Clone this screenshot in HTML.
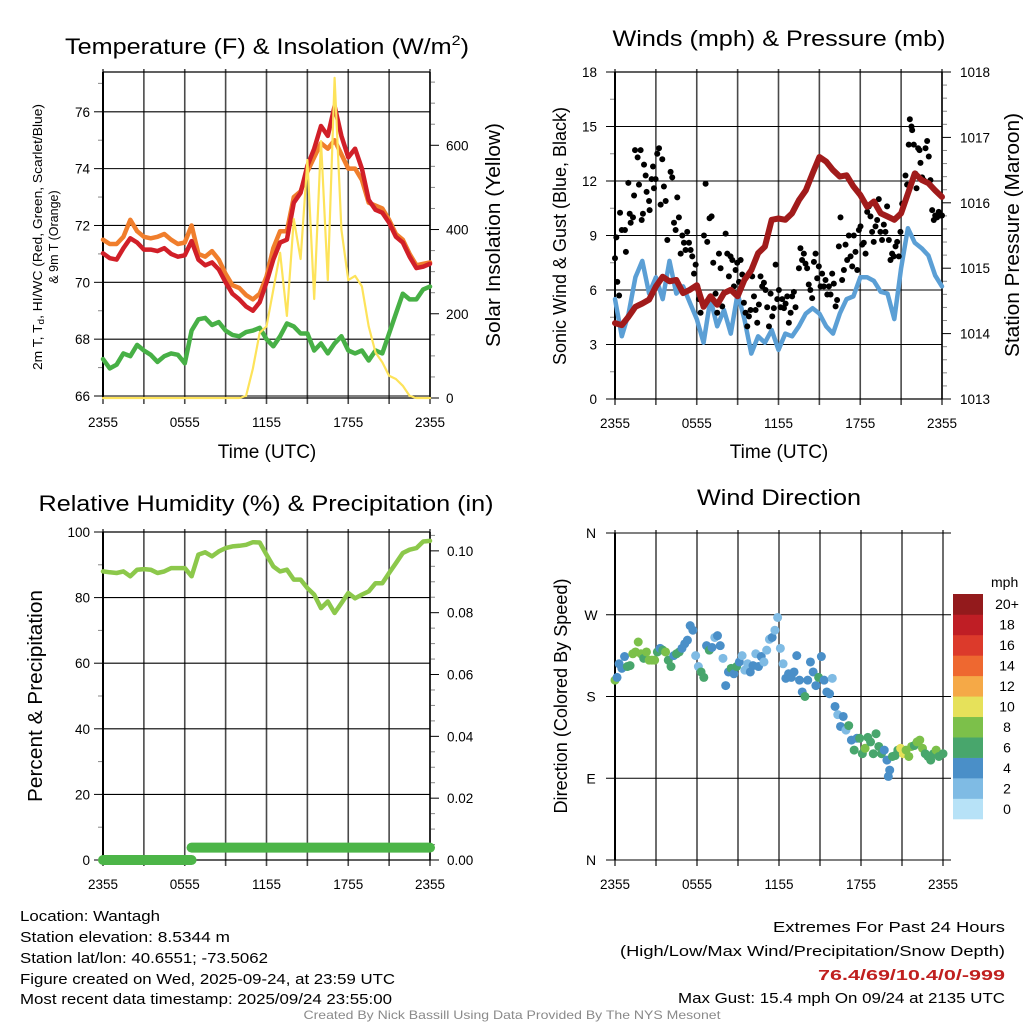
<!DOCTYPE html>
<html><head><meta charset="utf-8"><title>Wantagh Mesonet Meteogram</title>
<style>
html,body{margin:0;padding:0;background:#fff;}
svg{display:block;font-family:"Liberation Sans",Arial,sans-serif;}
</style></head>
<body>
<svg id="chart" width="1024" height="1024" viewBox="0 0 1024 1024" xmlns="http://www.w3.org/2000/svg">
<rect x="0" y="0" width="1024" height="1024" fill="#fff"/>
<!-- Titles -->
<text x="267" y="54" font-size="22" text-anchor="middle" textLength="404" lengthAdjust="spacingAndGlyphs">Temperature (F) &amp; Insolation (W/m<tspan font-size="14" dy="-9">2</tspan><tspan dy="9">)</tspan></text>
<text x="779" y="46" font-size="22" text-anchor="middle" textLength="333" lengthAdjust="spacingAndGlyphs">Winds (mph) &amp; Pressure (mb)</text>
<text x="266" y="511" font-size="22" text-anchor="middle" textLength="455" lengthAdjust="spacingAndGlyphs">Relative Humidity (%) &amp; Precipitation (in)</text>
<text x="779" y="505" font-size="22" text-anchor="middle" textLength="164" lengthAdjust="spacingAndGlyphs">Wind Direction</text>
<!-- Axis titles -->
<text x="267" y="458" font-size="19" text-anchor="middle">Time (UTC)</text>
<text x="779" y="458" font-size="19" text-anchor="middle">Time (UTC)</text>
<g font-size="12.5" text-anchor="middle">
<text x="38" y="237" transform="rotate(-90 38 237)" dominant-baseline="central" textLength="266" lengthAdjust="spacingAndGlyphs">2m T, T<tspan font-size="9" dy="3">d</tspan><tspan dy="-3">, HI/WC (Red, Green, Scarlet/Blue)</tspan></text>
<text x="54" y="237" transform="rotate(-90 54 237)" dominant-baseline="central">&amp; 9m T (Orange)</text>
</g>
<text x="494" y="235" font-size="20" text-anchor="middle" dominant-baseline="central" transform="rotate(-90 494 235)" textLength="224" lengthAdjust="spacingAndGlyphs">Solar Insolation (Yellow)</text>
<text x="560" y="236" font-size="18" text-anchor="middle" dominant-baseline="central" transform="rotate(-90 560 236)" textLength="258" lengthAdjust="spacingAndGlyphs">Sonic Wind &amp; Gust (Blue, Black)</text>
<text x="1013" y="235" font-size="20" text-anchor="middle" dominant-baseline="central" transform="rotate(-90 1013 235)" textLength="244" lengthAdjust="spacingAndGlyphs">Station Pressure (Maroon)</text>
<text x="36" y="696" font-size="20" text-anchor="middle" dominant-baseline="central" transform="rotate(-90 36 696)" textLength="212" lengthAdjust="spacingAndGlyphs">Percent &amp; Precipitation</text>
<text x="561" y="696" font-size="18" text-anchor="middle" dominant-baseline="central" transform="rotate(-90 561 696)" textLength="235" lengthAdjust="spacingAndGlyphs">Direction (Colored By Speed)</text>
<!-- Footer -->
<g font-size="15" fill="#000">
<text x="20" y="921" textLength="140" lengthAdjust="spacingAndGlyphs">Location: Wantagh</text>
<text x="20" y="942" textLength="210" lengthAdjust="spacingAndGlyphs">Station elevation: 8.5344 m</text>
<text x="20" y="963" textLength="248" lengthAdjust="spacingAndGlyphs">Station lat/lon: 40.6551; -73.5062</text>
<text x="20" y="984" textLength="375" lengthAdjust="spacingAndGlyphs">Figure created on Wed, 2025-09-24, at 23:59 UTC</text>
<text x="20" y="1004" textLength="372" lengthAdjust="spacingAndGlyphs">Most recent data timestamp: 2025/09/24 23:55:00</text>
</g>
<g font-size="15" text-anchor="end">
<text x="1005" y="932" textLength="232" lengthAdjust="spacingAndGlyphs">Extremes For Past 24 Hours</text>
<text x="1005" y="956" textLength="385" lengthAdjust="spacingAndGlyphs">(High/Low/Max Wind/Precipitation/Snow Depth)</text>
<text x="1005" y="980" fill="#c0201f" font-weight="bold" textLength="187" lengthAdjust="spacingAndGlyphs">76.4/69/10.4/0/-999</text>
<text x="1005" y="1003" textLength="327" lengthAdjust="spacingAndGlyphs">Max Gust: 15.4 mph On 09/24 at 2135 UTC</text>
</g>
<text x="512" y="1019" font-size="12" fill="#8a8a8a" text-anchor="middle" textLength="417" lengthAdjust="spacingAndGlyphs">Created By Nick Bassill Using Data Provided By The NYS Mesonet</text>
</svg>
<script>
// ---------- DATA ----------
const timeLabels = ['2355','0555','1155','1755','2355'];
const timeLabelHours = [0,6,12,18,24];
const halfHours = [0,0.5,1,1.5,2,2.5,3,3.5,4,4.5,5,5.5,6,6.5,7,7.5,8,8.5,9,9.5,10,10.5,11,11.5,12,12.5,13,13.5,14,14.5,15,15.5,16,16.5,17,17.5,18,18.5,19,19.5,20,20.5,21,21.5,22,22.5,23,23.5,24];
const tempRed = [71.02,70.85,70.8,71.2,71.55,71.4,71.15,71.15,71.1,71.2,71.0,70.9,70.95,71.45,70.8,70.6,70.7,70.45,70.0,69.6,69.4,69.15,69.0,69.3,70.0,70.8,71.4,71.5,72.8,73.15,74.1,74.7,75.5,75.15,76.2,75.15,74.4,74.7,74.0,72.9,72.55,72.45,72.1,71.6,71.4,70.9,70.5,70.55,70.65];
const temp9m = [71.5,71.35,71.35,71.6,72.2,71.8,71.6,71.55,71.6,71.7,71.5,71.35,71.4,72.0,71.0,70.9,71.1,70.8,70.3,69.9,69.8,69.55,69.4,69.6,70.2,71.2,71.8,71.8,73.0,73.2,73.9,74.4,74.9,74.7,75.0,74.5,74.0,74.0,73.6,72.8,72.7,72.6,72.2,71.7,71.5,71.0,70.6,70.65,70.7];
const dewpoint = [67.3,66.97,67.1,67.5,67.4,67.8,67.6,67.45,67.2,67.4,67.5,67.45,67.15,68.3,68.7,68.75,68.5,68.6,68.3,68.15,68.1,68.25,68.3,68.4,68.0,67.75,68.1,68.55,68.45,68.2,68.2,67.6,67.85,67.5,67.85,68.1,67.6,67.5,67.6,67.25,67.6,67.5,68.2,68.9,69.6,69.4,69.4,69.75,69.85];
const solar = [0,0,0,0,0,0,0,0,0,0,0,0,0,0,0,0,0,0,0,0,0,5,70,155,170,257,345,195,425,330,565,235,610,280,760,400,280,290,265,170,108,85,53,45,29,5,0,0,0];
const windSpeed = [5.5,3.45,4.7,6.7,7.6,5.8,6.7,5.5,7.6,5.8,6.2,5.3,4.4,3.1,5.5,4.0,4.9,3.6,5.8,4.4,2.5,3.45,3.1,3.8,2.7,3.6,3.45,4.0,4.7,5.0,4.7,4.0,3.6,4.7,5.5,5.65,6.7,6.7,6.5,5.9,5.8,4.4,7.2,9.4,8.6,8.3,7.9,6.8,6.2];
const pressure = [1014.16,1014.13,1014.26,1014.41,1014.46,1014.52,1014.72,1014.87,1014.8,1014.82,1014.62,1014.67,1014.74,1014.41,1014.57,1014.44,1014.62,1014.67,1014.57,1014.82,1014.97,1015.23,1015.33,1015.74,1015.76,1015.74,1015.84,1016.04,1016.19,1016.45,1016.7,1016.63,1016.5,1016.4,1016.42,1016.25,1016.12,1015.94,1016.02,1015.84,1015.79,1015.74,1015.84,1016.14,1016.45,1016.35,1016.3,1016.19,1016.09];
const gustHours = [0,0.1,0.17,0.3,0.37,0.5,0.73,0.8,0.98,1.08,1.15,1.32,1.4,1.47,1.66,1.76,1.88,1.96,2.05,2.13,2.25,2.32,2.5,2.54,2.69,2.79,2.86,2.98,3.1,3.23,3.35,3.47,3.59,3.72,3.84,4.08,4.2,4.33,4.45,4.57,4.69,4.82,4.94,5.06,5.18,5.3,5.43,5.55,5.67,5.8,5.92,6.04,6.16,6.28,6.53,6.65,6.77,6.94,7.09,7.21,7.38,7.5,7.63,7.75,7.87,8.12,8.24,8.36,8.48,8.61,8.73,8.85,8.97,9.1,9.22,9.34,9.46,9.58,9.71,9.83,9.95,10.07,10.2,10.32,10.44,10.56,10.68,10.8,10.93,11.05,11.17,11.3,11.42,11.54,11.66,11.79,11.91,12.03,12.15,12.27,12.4,12.52,12.64,12.76,12.89,13.0,13.13,13.25,13.5,13.61,13.73,13.86,13.98,14.1,14.22,14.34,14.47,14.6,14.72,14.84,14.96,15.09,15.2,15.33,15.45,15.58,15.7,15.82,15.94,16.06,16.19,16.3,16.43,16.55,16.67,16.8,16.92,17.04,17.16,17.29,17.41,17.53,17.65,17.78,17.9,18.02,18.14,18.26,18.39,18.51,18.63,18.75,18.87,18.99,19.12,19.24,19.36,19.48,19.6,19.73,19.85,19.97,20.1,20.22,20.34,20.46,20.59,20.71,20.83,20.95,21.08,21.32,21.44,21.56,21.64,21.76,21.81,21.93,22.05,22.13,22.25,22.35,22.42,22.54,22.66,22.79,22.91,23.03,23.15,23.28,23.4,23.5,23.64,23.76,23.89,24];
const gustSpeed = [7.75,8.9,6.45,5.7,10.25,9.3,9.3,8.1,11.9,10.2,9.7,10.0,11.2,13.7,13.3,11.8,13.7,9.85,10.2,12.9,12.3,11.4,10.9,10.4,12.1,12.8,11.6,12.1,13.5,13.8,10.7,13.2,11.7,10.9,8.75,12.5,12.2,9.7,9.3,11.1,10.0,8.0,9.0,8.6,8.2,9.2,8.6,8.2,7.85,6.9,7.4,6.2,5.5,4.75,9.0,11.85,8.65,9.95,10.05,7.5,5.8,4.75,8.0,7.2,5.1,9.1,8.0,6.75,7.85,7.65,6.2,7.1,7.5,6.45,7.65,6.85,5.3,4.75,4.0,4.55,4.9,6.75,5.65,4.9,4.2,5.2,6.75,6.2,6.4,6.0,5.05,4.0,5.8,4.55,5.0,7.4,5.5,6.0,5.05,5.5,5.0,5.25,5.65,4.2,4.75,5.65,5.9,5.05,7.2,8.3,7.65,8.0,7.45,7.2,6.3,6.0,5.55,7.55,8.0,6.65,7.3,6.2,6.9,6.2,6.55,5.75,6.2,5.75,6.9,6.35,5.1,5.45,8.4,10.0,6.55,7.1,8.5,7.65,9.0,7.85,7.3,9.0,8.1,7.1,9.3,9.5,8.5,8.6,8.0,10.3,10.6,10.05,9.2,8.65,9.5,9.85,11.0,9.2,8.75,9.6,9.2,10.6,8.75,7.65,8.0,7.85,8.4,8.65,7.85,9.2,10.75,12.3,11.8,14.0,15.4,15.0,14.8,14.0,12.4,11.6,13.8,13.7,13.0,12.2,12.05,13.8,14.2,13.35,12.05,10.4,9.85,10.1,10.0,10.3,10.1,10.1];
const rhValues = [88.0,87.7,87.5,88.0,86.5,88.5,88.7,88.5,87.5,88.0,89.0,89.0,89.0,86.5,93.1,93.8,92.6,94.1,95.1,95.6,95.8,96.1,96.9,96.8,93.1,89.5,88.0,88.5,85.5,85.5,82.9,80.9,76.8,78.8,75.3,78.3,81.4,79.8,80.9,81.9,84.4,84.4,87.5,90.5,93.6,94.6,95.1,97.1,97.3];
const precipHours = [0,6.5,6.5,24];
const precipValues = [0,0,0.004,0.004];
const dirHours = [0,0.15,0.3,0.5,0.7,0.9,1.1,1.3,1.5,1.7,1.9,2.1,2.3,2.5,2.7,2.9,3.1,3.3,3.5,3.7,3.9,4.1,4.3,4.5,4.7,4.9,5.1,5.3,5.5,5.7,5.9,6.1,6.3,6.5,6.7,6.9,7.1,7.3,7.5,7.7,7.9,8.1,8.3,8.5,8.7,8.9,9.1,9.3,9.5,9.7,9.9,10.1,10.3,10.5,10.7,10.9,11.1,11.3,11.5,11.7,11.9,12.1,12.3,12.5,12.7,12.9,13.1,13.3,13.5,13.7,13.9,14.1,14.3,14.5,14.7,14.9,15.1,15.3,15.5,15.7,15.9,16.1,16.3,16.5,16.7,16.9,17.1,17.3,17.5,17.7,17.9,18.1,18.3,18.5,18.7,18.9,19.1,19.3,19.5,19.7,19.9,20.0,20.1,20.3,20.5,20.7,20.9,21.1,21.3,21.5,21.7,21.9,22.1,22.3,22.5,22.7,22.9,23.1,23.3,23.5,23.7,24];
const dirDegrees = [198,201,216,211,224,213,214,227,229,240,227,222,229,220,220,220,229,233,231,229,220,213,225,227,229,233,238,242,258,253,225,213,207,201,236,231,234,245,247,236,222,192,207,211,205,213,218,225,209,216,207,214,227,213,224,218,231,243,245,253,267,233,216,200,205,201,207,225,198,185,180,198,218,207,192,201,224,198,185,183,200,169,160,147,158,143,148,132,121,134,134,117,123,135,130,117,139,125,117,121,110,92,99,114,115,121,123,117,121,114,125,126,130,132,123,117,114,110,117,121,114,117];
const dirSpeeds = [7,4,4,4,4,6,6,8,8,8,8,6,8,8,8,8,6,4,6,8,6,6,4,6,6,4,4,4,4,4,2,2,6,6,4,6,4,2,4,4,2,4,4,6,4,6,4,2,2,2,4,4,2,4,4,2,2,2,4,2,2,2,2,4,4,4,4,4,4,4,6,4,4,4,4,6,4,4,4,4,2,4,2,4,4,2,6,4,6,4,6,6,8,6,6,6,6,6,6,4,4,4,4,6,6,6,10,10,8,8,8,6,8,8,8,6,6,6,6,8,6,6];
const speedBinLabels = ['0','2','4','6','8','10','12','14','16','18','20+'];
const speedBinColors = ['#b7e2f7','#7fbbe4','#4a8fc8','#48a66c','#7cc04a','#e6e15a','#f5a947','#ee6830','#dc3a2b','#bf1e25','#931a1c'];

// ---------- HELPERS ----------
const NS = 'http://www.w3.org/2000/svg';
const svg = document.getElementById('chart');
function mk(tag, attrs, parent) {
  const e = document.createElementNS(NS, tag);
  for (const k in attrs) e.setAttribute(k, attrs[k]);
  (parent || svg).appendChild(e);
  return e;
}
function txt(str, attrs, parent) { const e = mk('text', attrs, parent); e.textContent = str; return e; }

function makePanel(name, L, R, T, B) {
  const g = mk('g', {});
  
  
  const xs = h => L + h / 24 * (R - L);
  // vertical gridlines every 3 h
  for (let h = 0; h <= 24; h += 3) {
    const l = mk('line', {x1: xs(h), x2: xs(h), y1: T - 3, y2: B + 6, stroke: '#4a4a4a', 'stroke-width': 1.6}, g);
    
    
  }
  for (let i = 0; i < timeLabels.length; i++) {
    const t = txt(timeLabels[i], {x: xs(timeLabelHours[i]), y: B + 29, 'font-size': 13.5, 'text-anchor': 'middle'}, g);
    
    
  }
  return {g, xs, L, R, T, B};
}
function yAxis(p, side, min, max, major, minor, fmt, gridOn, labelX) {
  const ys = v => p.B - (v - min) / (max - min) * (p.B - p.T);
  const eps = 1e-9;
  const x0 = side === 'left' ? p.L : p.R;
  const dir = side === 'left' ? -1 : 1;
  for (let v = Math.ceil(min / minor - eps) * minor; v <= max + eps; v += minor) {
    const isMajor = Math.abs(v / major - Math.round(v / major)) < 1e-6;
    const y = ys(v);
    const tk = mk('line', {x1: x0, x2: x0 + dir * (isMajor ? 9 : 5), y1: y, y2: y, stroke: isMajor ? '#000' : '#888', 'stroke-width': 1}, p.g);
    
    
    if (isMajor) {
      if (gridOn) {
        const gl = mk('line', {x1: p.L, x2: p.R, y1: y, y2: y, stroke: '#000', 'stroke-width': 1.1}, p.g);
        
        
      }
      const lb = txt(fmt(v), {x: labelX, y: y + 5, 'font-size': 13.5, 'text-anchor': side === 'left' ? 'end' : 'start'}, p.g);
      
      
    }
  }
  return ys;
}
function frame(p) {
  const l1 = mk('line', {x1: p.L, x2: p.L, y1: p.T, y2: p.B, stroke: '#000', 'stroke-width': 2}, p.g);
  
  
  const l2 = mk('line', {x1: p.R, x2: p.R, y1: p.T, y2: p.B, stroke: '#000', 'stroke-width': 1.4}, p.g);
  
  
  const l3 = mk('line', {x1: p.L, x2: p.R, y1: p.T, y2: p.T, stroke: '#000', 'stroke-width': 1.2}, p.g);
  
  
  const l4 = mk('line', {x1: p.L, x2: p.R, y1: p.B, y2: p.B, stroke: '#000', 'stroke-width': 1.2}, p.g);
  
  
}
function series(p, hours, vals, ys, color, width, name) {
  const d = hours.map((h, i) => (i ? 'L' : 'M') + p.xs(h).toFixed(1) + ' ' + ys(vals[i]).toFixed(1)).join(' ');
  const path = mk('path', {d, fill: 'none', stroke: color, 'stroke-width': width, 'stroke-linejoin': 'round', 'stroke-linecap': 'round'}, p.g);
  
  
  return path;
}

// ---------- PANEL A: Temperature ----------
const pA = makePanel('temperature-panel', 103, 430, 72, 398);
const yTemp = yAxis(pA, 'left', 65.93, 77.4, 2, 1, v => String(Math.round(v)), true, 90);
const ySolar = yAxis(pA, 'right', 0, 774, 200, 50, v => String(Math.round(v)), false, 446);
frame(pA);
series(pA, halfHours, temp9m, yTemp, '#f07e2c', 4.5, 'temp-9m-line');
series(pA, halfHours, tempRed, yTemp, '#d11f28', 4.5, 'temp-2m-line');
series(pA, halfHours, dewpoint, yTemp, '#47b046', 4.5, 'dewpoint-line');
series(pA, halfHours, solar, ySolar, '#fde35a', 2.2, 'solar-insolation-line');

// ---------- PANEL B: Winds ----------
const pB = makePanel('winds-panel', 615, 942, 72, 399);
const yWind = yAxis(pB, 'left', 0, 18, 3, 1.5, v => String(Math.round(v)), true, 597);
const yPres = yAxis(pB, 'right', 1013, 1018, 1, 0.2, v => String(Math.round(v)), false, 960);
frame(pB);
series(pB, halfHours, windSpeed, yWind, '#5b9fd5', 4.5, 'wind-speed-line');
gustHours.forEach((h, i) => {
  const c = mk('circle', {cx: pB.xs(h), cy: yWind(gustSpeed[i]), r: 3, fill: '#000'}, pB.g);
  
  
});
series(pB, halfHours, pressure, yPres, '#a11b1b', 6, 'pressure-line');

// ---------- PANEL C: Humidity ----------
const pC = makePanel('humidity-panel', 103, 430, 532, 860);
const yRH = yAxis(pC, 'left', 0, 100, 20, 10, v => String(Math.round(v)), true, 90);
const yPrecip = yAxis(pC, 'right', 0, 0.1061, 0.02, 0.005, v => v.toFixed(2), false, 447);
frame(pC);
series(pC, halfHours, rhValues, yRH, '#8cc84b', 4.5, 'relative-humidity-line');
for (let i = 0; i < precipHours.length - 1; i++) {
  if (precipValues[i] === precipValues[i + 1]) {
    const seg = mk('line', {x1: pC.xs(precipHours[i]), x2: pC.xs(precipHours[i + 1]), y1: yPrecip(precipValues[i]), y2: yPrecip(precipValues[i + 1]), stroke: '#4cb548', 'stroke-width': 10, 'stroke-linecap': 'round'}, pC.g);
    
    
  }
}

// ---------- PANEL D: Wind Direction ----------
const pD = makePanel('wind-direction-panel', 615, 943, 533, 860);
const dirLabels = ['N', 'E', 'S', 'W', 'N'];
const yDir = v => pD.B - v / 360 * (pD.B - pD.T);
for (let i = 0; i < 5; i++) {
  const y = yDir(i * 90);
  const gl = mk('line', {x1: pD.L - 9, x2: pD.R + 8, y1: y, y2: y, stroke: '#000', 'stroke-width': 1.1}, pD.g);
  
  
  const lb = txt(dirLabels[i], {x: 591, y: y + 5, 'font-size': 14, 'text-anchor': 'middle'}, pD.g);
  
  
}
const fl = mk('line', {x1: pD.L, x2: pD.L, y1: pD.T, y2: pD.B, stroke: '#000', 'stroke-width': 2}, pD.g);


dirHours.forEach((h, i) => {
  const bin = Math.min(10, Math.round(dirSpeeds[i] / 2));
  const c = mk('circle', {cx: pD.xs(h), cy: yDir(dirDegrees[i]), r: 4.5, fill: speedBinColors[bin]}, pD.g);
  
  
});
// colorbar
const cb = mk('g', {});


const cbTop = 594, cbBot = 819, cbH = (cbBot - cbTop) / speedBinColors.length;
for (let i = 0; i < speedBinColors.length; i++) {
  const y = cbBot - (i + 1) * cbH;
  const r = mk('rect', {x: 953, y: y, width: 30, height: cbH + 0.3, fill: speedBinColors[i]}, cb);
  
  
  const t = txt(speedBinLabels[i], {x: 1007, y: y + cbH / 2 + 5, 'font-size': 14, 'text-anchor': 'middle'}, cb);
  
  
}
const mph = txt('mph', {x: 991, y: 587, 'font-size': 14}, cb);


</script>
</body></html>
